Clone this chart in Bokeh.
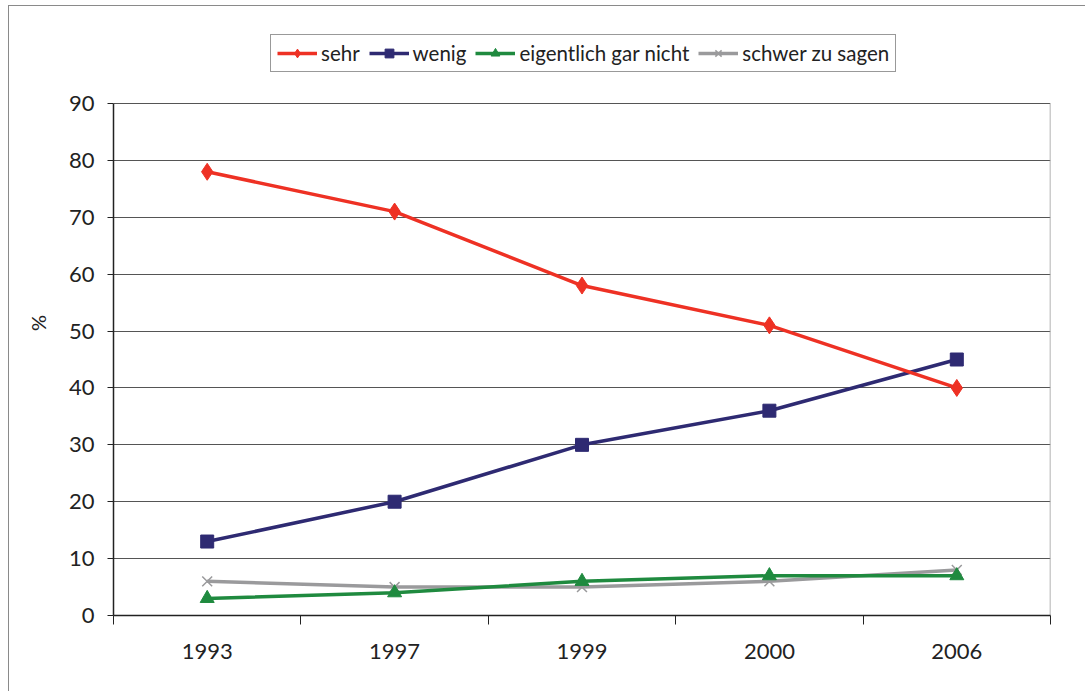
import numpy as np
from bokeh.plotting import figure
from bokeh.models import Legend, LegendItem, FixedTicker, Range1d, ColumnDataSource
from bokeh.embed import file_html
from bokeh.resources import INLINE

years = ["1993", "1997", "1999", "2000", "2006"]
sehr = [78, 71, 58, 51, 40]
wenig = [13, 20, 30, 36, 45]
eigentlich_gar_nicht = [3, 4, 6, 7, 7]
schwer_zu_sagen = [6, 5, 5, 6, 8]
y_ticks = [0, 10, 20, 30, 40, 50, 60, 70, 80, 90]

FONT = "Lato"
x = list(np.arange(len(years)) + 0.5)

Y_MAX = y_ticks[-1]
PLOT_H = 512           # visible plot height (0..90)
FRAME_H = 585          # frame extends above the plot to hold the legend
y_end = Y_MAX * FRAME_H / PLOT_H

# figure placed at (8, 5) on the page, with its own left/top border line
p = figure(frame_width=937, frame_height=FRAME_H, output_backend="svg",
           toolbar_location=None,
           x_range=Range1d(0, len(years)), y_range=Range1d(0, y_end),
           min_border_left=104, min_border_right=35, min_border_top=24,
           min_border_bottom=76)
p.margin = (5, 0, 0, 8)
p.styles = {"border-top": "1.5px solid #8a8a8a", "border-left": "1.5px solid #8a8a8a"}
p.background_fill_color = "white"
p.border_fill_color = "white"
p.outline_line_color = None

# x axis
p.xaxis.ticker = FixedTicker(ticks=x, minor_ticks=list(range(len(years) + 1)))
p.xaxis.major_label_overrides = {float(v): years[i] for i, v in enumerate(x)}
p.xaxis.major_tick_line_color = None
p.xaxis.minor_tick_line_color = "#222222"
p.xaxis.minor_tick_out = 9
p.xaxis.minor_tick_in = 0
p.xaxis.axis_line_color = "#222222"
p.xaxis.axis_line_width = 1.5
p.xaxis.major_label_text_font = FONT
p.xaxis.major_label_text_font_size = "22px"
p.xaxis.major_label_text_color = "#222222"
p.xaxis.major_label_standoff = 19
p.xgrid.grid_line_color = None

# y axis
p.yaxis.ticker = FixedTicker(ticks=y_ticks)
p.yaxis.bounds = (0, Y_MAX)
p.yaxis.minor_tick_line_color = None
p.yaxis.major_tick_out = 6
p.yaxis.major_tick_in = 0
p.yaxis.major_tick_line_color = "#222222"
p.yaxis.axis_line_color = "#222222"
p.yaxis.axis_line_width = 1.5
p.yaxis.major_label_text_font = FONT
p.yaxis.major_label_text_font_size = "22px"
p.yaxis.major_label_text_color = "#222222"
p.yaxis.major_label_standoff = 13
p.yaxis.axis_label = "%"
p.yaxis.axis_label_text_font = FONT
p.yaxis.axis_label_text_font_size = "20px"
p.yaxis.axis_label_text_font_style = "normal"
p.yaxis.axis_label_text_color = "#222222"
p.yaxis.axis_label_standoff = 16
p.ygrid.grid_line_color = "#555555"
p.ygrid.grid_line_width = 1

# right border of the plot area
p.segment(x0=[len(years)], y0=[0], x1=[len(years)], y1=[Y_MAX],
          line_color="#999999", line_width=1.5)

series = [
    ("sehr", sehr, "#ee3124", "diamond", 17),
    ("wenig", wenig, "#2e2a72", "square", 13),
    ("eigentlich gar nicht", eigentlich_gar_nicht, "#1f8a3f", "triangle", 14),
    ("schwer zu sagen", schwer_zu_sagen, "#9a9a9c", "x", 14),
]

items = []
for name, vals, col, mk, sz in reversed(series):
    src = ColumnDataSource(dict(x=x, y=vals))
    ln = p.line("x", "y", source=src, line_color=col, line_width=3.5)
    if mk == "x":
        sc = p.scatter("x", "y", source=src, marker=mk, size=sz, line_color=col,
                       line_width=1.5)
    else:
        sc = p.scatter("x", "y", source=src, marker=mk, size=sz, fill_color=col,
                       line_color=col)
    items.append(LegendItem(label=name, renderers=[ln, sc]))
items = list(reversed(items))

legend = Legend(items=items, orientation="horizontal", location=(157, 543))
legend.label_text_font = FONT
legend.label_text_font_size = "20.5px"
legend.label_text_color = "#222222"
legend.glyph_width = 40
legend.glyph_height = 22
legend.label_standoff = 4
legend.spacing = 9
legend.padding = 6
legend.margin = 0
legend.border_line_color = "#333333"
legend.border_line_width = 1
legend.background_fill_alpha = 1
p.add_layout(legend, "center")

open("out.html", "w").write(file_html(p, INLINE))
